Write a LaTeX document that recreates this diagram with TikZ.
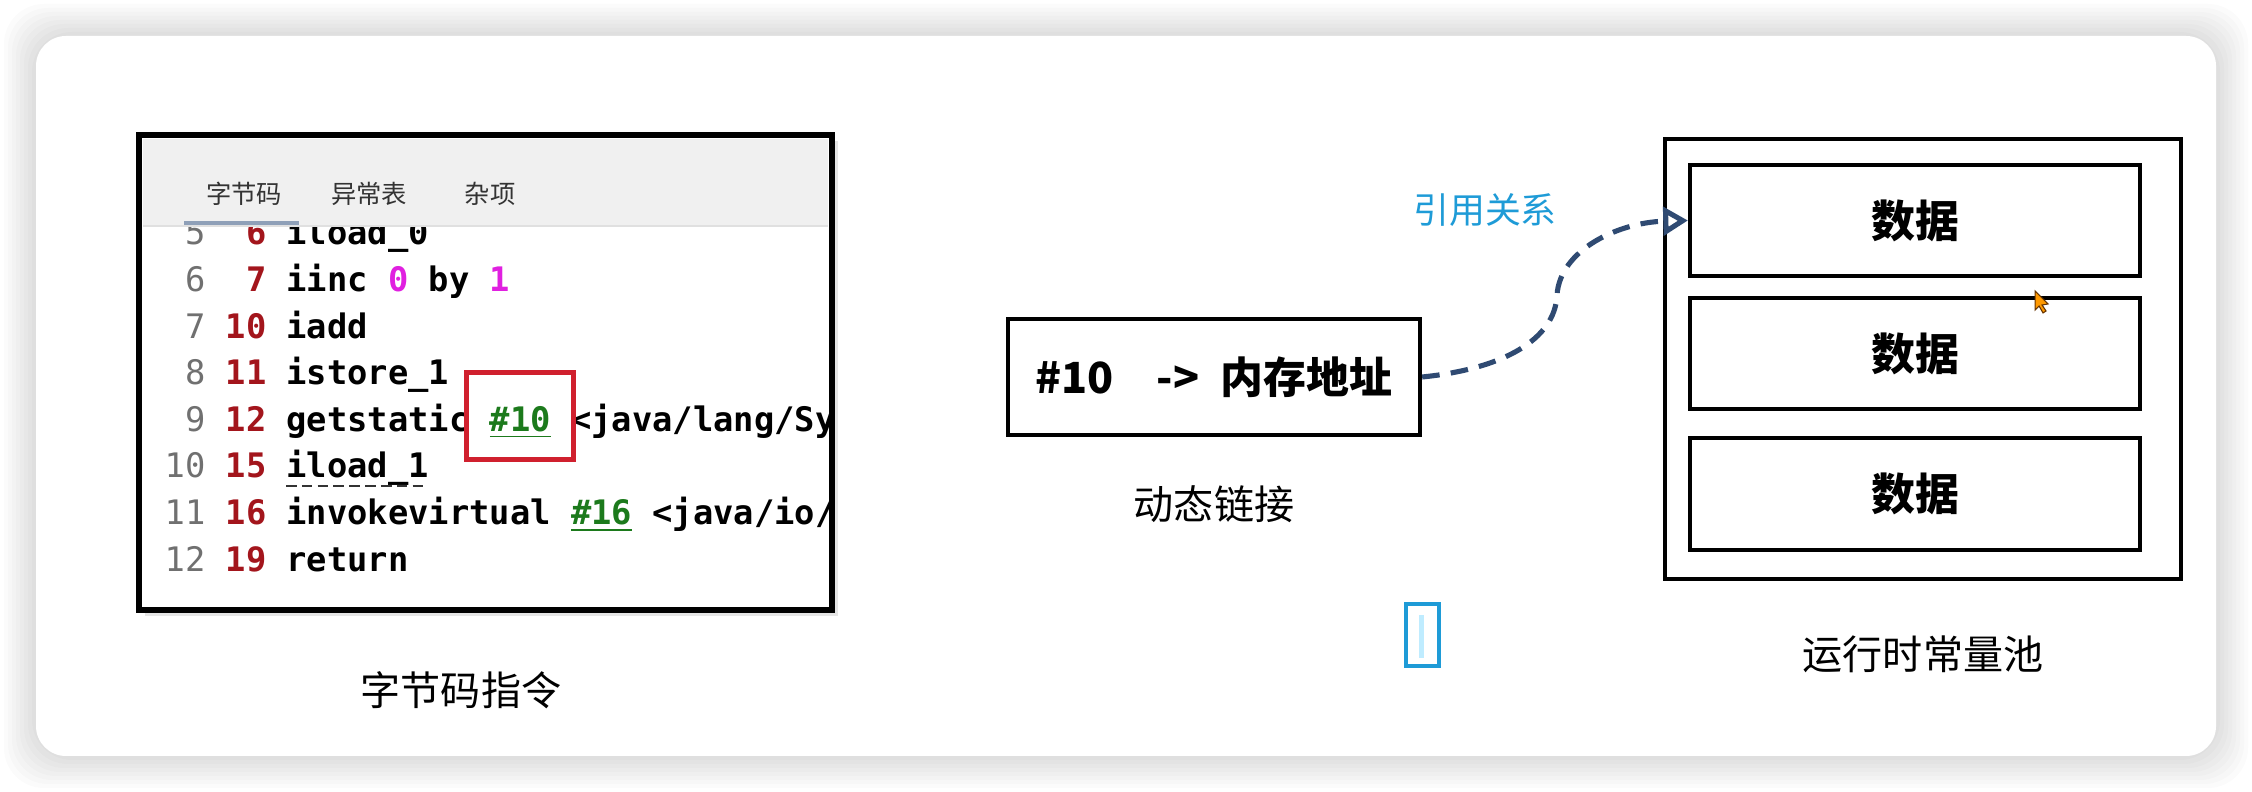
\documentclass[tikz,border=0pt]{standalone}
\usepackage{fontspec}
\setmainfont{Noto Sans CJK SC}
\newfontfamily\codefont{DejaVu Sans Mono}
\usetikzlibrary{positioning,arrows.meta}

\definecolor{lngray}{HTML}{707070}
\definecolor{offred}{HTML}{A3151C}
\definecolor{refgreen}{HTML}{1C7A1C}
\definecolor{numpink}{HTML}{E020E0}
\definecolor{linkblue}{HTML}{2F4A72}
\definecolor{relblue}{HTML}{1E9BD7}
\definecolor{tabgray}{HTML}{F0F0F0}
\definecolor{tabline}{HTML}{8FA0B8}
\definecolor{markred}{HTML}{D0202E}

% pieces of a bytecode line
\newcommand{\lnum}[1]{{\mdseries\color{lngray}#1}}
\newcommand{\offs}[1]{{\color{offred}#1}}
\newcommand{\cpref}[1]{{\color{refgreen}\underline{#1}}}
\newcommand{\numv}[1]{{\color{numpink}#1}}

\begin{document}
\begin{tikzpicture}[x=0.01cm, y=-0.01cm,
codebox/.style={draw, line width=1.7pt, fill=white, minimum width=6.93cm, minimum height=4.75cm, inner sep=0pt},
codeline/.style={anchor=base west, inner sep=0pt, font=\codefont\bfseries\fontsize{9.6pt}{11pt}\selectfont},
tab/.style={text=black!80, font=\fontsize{7.2pt}{8pt}\selectfont},
caption/.style={font=\fontsize{11.4pt}{13pt}\selectfont},
addrbox/.style={draw, line width=1.15pt, minimum width=4.12cm, minimum height=1.16cm, font=\bfseries\fontsize{12.2pt}{14pt}\selectfont},
pool/.style={draw, line width=1.15pt, minimum width=5.15cm, minimum height=4.4cm},
databox/.style={draw, line width=1.15pt, minimum width=4.5cm, minimum height=1.11cm, font=\bfseries\fontsize{12.5pt}{14pt}\selectfont},
link/.style={draw=linkblue, line width=1.45pt, dash pattern=on 5pt off 3.2pt, -{Triangle[open, length=7pt, width=8pt]}}
]
\useasboundingbox (0,0) rectangle (2252,792);

% card and its shadow
\foreach \s in {4,8,...,32}
  \fill[black, opacity=0.015, rounded corners=0.4cm] (36-\s,36-\s) rectangle (2216+\s,756+\s);
\fill[white, rounded corners=0.3cm] (36,36) rectangle (2216,756);

% bytecode window
\fill[black!10] (145,141) rectangle (838,616);
\node[codebox] (code) at (485.5,372.5) {};
\begin{scope}
\clip ([shift={(3,3)}]code.north west) rectangle ([shift={(-3,-3)}]code.south east);
\node[codeline] (l1) at (164,245) {\lnum{~5} \offs{~6} iload\_0};
\node[codeline] (l2) at (164,291.6) {\lnum{~6} \offs{~7} iinc \numv{0} by \numv{1}};
\node[codeline] (l3) at (164,338.2) {\lnum{~7} \offs{10} iadd};
\node[codeline] (l4) at (164,384.8) {\lnum{~8} \offs{11} istore\_1};
\node[codeline] (l5) at (164,431.4) {\lnum{~9} \offs{12} getstatic \cpref{\#10} <java/lang/Sys};
\node[codeline] (l6) at (164,478) {\lnum{10} \offs{15} iload\_1};
\node[codeline] (l7) at (164,524.6) {\lnum{11} \offs{16} invokevirtual \cpref{\#16} <java/io/P};
\node[codeline] (l8) at (164,571.2) {\lnum{12} \offs{19} return};
\draw[black!80, line width=0.6pt, dash pattern=on 3pt off 1.5pt] (286,486) -- (428,486);
\fill[tabgray] (143,139) rectangle (828,226);
\draw[black!12] (143,226) -- (828,226);
\end{scope}
\draw[tabline, line width=1.2pt] (184,223) -- (299,223);
\node[tab] (tab1) at (244,194) {字节码};
\node[tab] (tab2) at (369,194) {异常表};
\node[tab] (tab3) at (490,194) {杂项};
\node[draw=markred, line width=1.3pt, minimum width=1.07cm, minimum height=0.87cm] (mark) at (520,416) {};
\node[caption] (codecap) at (461,690) {字节码指令};

% dynamic linking entry
\node[addrbox] (addr) at (1214,377) {\#10\hspace{1em}->\hspace{0.5em}内存地址};
\node[caption, below=0.36cm of addr] (addrcap) {动态链接};

% runtime constant pool
\node[pool] (pool) at (1923,359) {};
\node[databox] (data1) at (1915,220.5) {数据};
\node[databox] (data2) at (1915,353.5) {数据};
\node[databox] (data3) at (1915,494) {数据};
\node[caption, below=0.42cm of pool] (poolcap) {运行时常量池};

% reference
\coordinate (bend) at (1557,295);
\draw[link] (addr.east) .. controls +(80,-8) and +(-2,45) .. (bend)
  .. controls +(3,-45) and +(-70,2) .. (data1.west);
\node[text=relblue, font=\fontsize{10.2pt}{12pt}\selectfont] (rel) at (1485,210) {引用关系};

% text cursor and mouse pointer
\draw[relblue, line width=1pt] (1406,604) rectangle (1439,666);
\fill[blue!30!cyan!25] (1419,615) rectangle (1424,658);
\filldraw[fill=orange!80!yellow, draw=black!60!orange, line width=0.3pt]
  (2035,291) -- (2035,310) -- (2039,306) -- (2043,313) -- (2046,311) -- (2042,305) -- (2048,304) -- cycle;
\end{tikzpicture}
\end{document}
